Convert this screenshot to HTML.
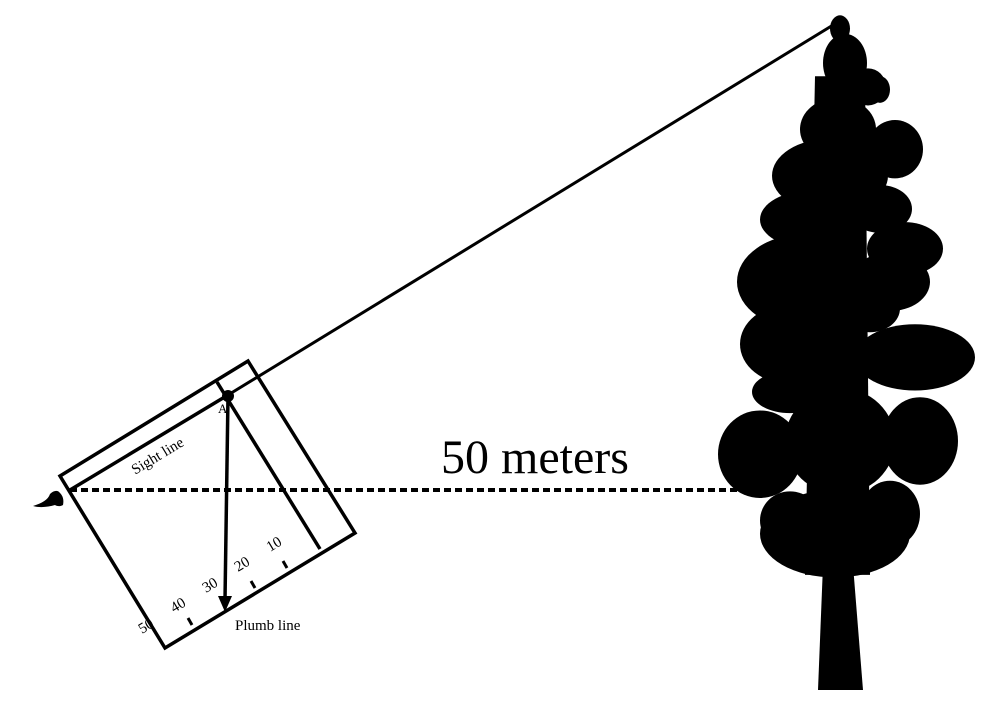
<!DOCTYPE html>
<html><head><style>html,body{margin:0;padding:0;background:#fff;}svg{display:block}</style></head>
<body>
<svg width="1006" height="704" viewBox="0 0 1006 704" xmlns="http://www.w3.org/2000/svg">
<g font-family="Liberation Serif, serif" fill="#000">
<!-- tree -->
<g fill="#000" transform="matrix(1,0,0,1.326,0,-3.26)">
<ellipse cx="840" cy="24" rx="10" ry="10"/>
<ellipse cx="845" cy="50" rx="22" ry="22"/>
<ellipse cx="868" cy="68" rx="18" ry="14"/>
<ellipse cx="838" cy="100" rx="38" ry="24"/>
<ellipse cx="880" cy="70" rx="10" ry="10"/>
<ellipse cx="830" cy="135" rx="58" ry="28"/>
<ellipse cx="895" cy="115" rx="28" ry="22"/>
<ellipse cx="812" cy="168" rx="52" ry="22"/>
<ellipse cx="880" cy="160" rx="32" ry="18"/>
<ellipse cx="905" cy="190" rx="38" ry="20"/>
<ellipse cx="805" cy="215" rx="68" ry="36"/>
<ellipse cx="890" cy="215" rx="40" ry="22"/>
<ellipse cx="790" cy="262" rx="50" ry="30"/>
<ellipse cx="870" cy="235" rx="30" ry="18"/>
<ellipse cx="915" cy="272" rx="60" ry="25"/>
<ellipse cx="790" cy="298" rx="38" ry="16"/>
<ellipse cx="760" cy="345" rx="42" ry="33"/>
<ellipse cx="920" cy="335" rx="38" ry="33"/>
<ellipse cx="840" cy="335" rx="55" ry="40"/>
<ellipse cx="835" cy="405" rx="75" ry="33"/>
<ellipse cx="790" cy="395" rx="30" ry="22"/>
<ellipse cx="890" cy="390" rx="30" ry="25"/>
<polygon points="815,60 865,60 870,436 805,436"/>
</g>
<polygon points="823,565 853,565 863,690 818,690"/>
<!-- long sight line -->
<line x1="228" y1="395" x2="838" y2="22" stroke="#000" stroke-width="3"/>
<!-- dashed line -->
<line x1="70" y1="490" x2="760" y2="490" stroke="#000" stroke-width="4" stroke-dasharray="7,4"/>
<!-- box -->
<polygon points="60,476 248,361 355,533 165,648" fill="none" stroke="#000" stroke-width="3.5"/>
<line x1="70" y1="490" x2="228" y2="395" stroke="#000" stroke-width="3.5"/>
<line x1="217" y1="382" x2="320" y2="549" stroke="#000" stroke-width="3.5"/>
<!-- ticks -->
<line x1="192" y1="625" x2="188" y2="618" stroke="#000" stroke-width="3"/>
<line x1="255" y1="588" x2="251" y2="581" stroke="#000" stroke-width="3"/>
<line x1="287" y1="568" x2="283" y2="561" stroke="#000" stroke-width="3"/>
<!-- plumb line -->
<circle cx="228" cy="396" r="6"/>
<line x1="228" y1="396" x2="225" y2="600" stroke="#000" stroke-width="3.5"/>
<polygon points="218,596 232,596 225,612"/>
<!-- eye -->
<path d="M33,506 C42,503 48,500 50,494 C54,490 58,490 60,493 C63,496 64,500 63,505 C60,507 56,506 55,505 C48,507 40,508 33,506 Z"/>
<!-- labels -->
<text x="441" y="473" font-size="48">50 meters</text>
<text x="160" y="460" font-size="15" transform="rotate(-31 160 460)" text-anchor="middle">Sight line</text>
<text x="218" y="413" font-size="13">A</text>
<text x="235" y="630" font-size="15">Plumb line</text>
<text x="270" y="552" font-size="15" transform="rotate(-31 270 552)">10</text>
<text x="238" y="572" font-size="15" transform="rotate(-31 238 572)">20</text>
<text x="206" y="593" font-size="15" transform="rotate(-31 206 593)">30</text>
<text x="174" y="613" font-size="15" transform="rotate(-31 174 613)">40</text>
<text x="142" y="634" font-size="15" transform="rotate(-31 142 634)">50</text>
</g>
</svg>
</body></html>
